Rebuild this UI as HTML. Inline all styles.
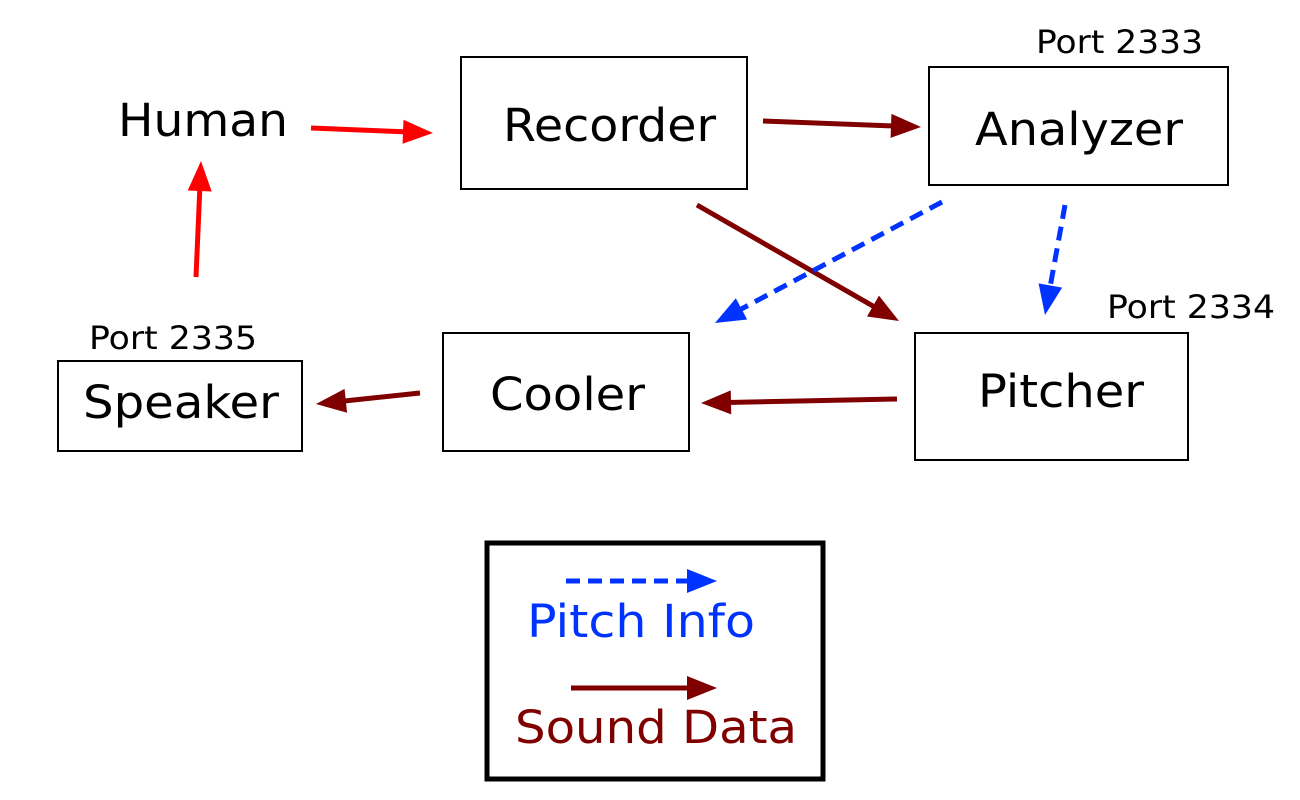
<!DOCTYPE html>
<html><head><meta charset="utf-8"><style>
html,body{margin:0;padding:0;background:#fff;}
svg{display:block;}
text{font-family:"DejaVu Sans","Liberation Sans",sans-serif;}
</style></head><body>
<svg id="s" width="1300" height="800" viewBox="0 0 1300 800" xmlns="http://www.w3.org/2000/svg">
<g fill="none" stroke="#000" stroke-width="2">
<rect x="461" y="57" width="286" height="132"/>
<rect x="929" y="67" width="299" height="118"/>
<rect x="443" y="333" width="246" height="118"/>
<rect x="915" y="333" width="273" height="127"/>
<rect x="58" y="361" width="244" height="90"/>
<rect x="487" y="543" width="336" height="236" stroke-width="5"/>
</g>
<g font-size="45" fill="#000" lengthAdjust="spacingAndGlyphs">
<text x="118" y="136" textLength="170" lengthAdjust="spacingAndGlyphs">Human</text>
<text x="503" y="141" textLength="213" lengthAdjust="spacingAndGlyphs">Recorder</text>
<text x="975" y="145" textLength="208" lengthAdjust="spacingAndGlyphs">Analyzer</text>
<text x="490" y="410" textLength="155" lengthAdjust="spacingAndGlyphs">Cooler</text>
<text x="978" y="407" textLength="166" lengthAdjust="spacingAndGlyphs">Pitcher</text>
<text x="83" y="418" textLength="196" lengthAdjust="spacingAndGlyphs">Speaker</text>
</g>
<g font-size="32" fill="#000">
<text x="1036" y="53" textLength="167" lengthAdjust="spacingAndGlyphs">Port 2333</text>
<text x="1107" y="318" textLength="168" lengthAdjust="spacingAndGlyphs">Port 2334</text>
<text x="89" y="349" textLength="168" lengthAdjust="spacingAndGlyphs">Port 2335</text>
</g>
<g id="arrows"></g>
<text x="527" y="637" font-size="45" fill="#0033ff" textLength="228" lengthAdjust="spacingAndGlyphs">Pitch Info</text>
<text x="515" y="743" font-size="45" fill="#800000" textLength="282" lengthAdjust="spacingAndGlyphs">Sound Data</text>
</svg>
<script>
var g=document.getElementById('arrows'),NS='http://www.w3.org/2000/svg';
function A(x1,y1,x2,y2,c,dash){
 var dx=x2-x1,dy=y2-y1,L=Math.hypot(dx,dy),ux=dx/L,uy=dy/L,px=-uy,py=ux,h=30,w=12;
 var l=document.createElementNS(NS,'line');
 l.setAttribute('x1',x1);l.setAttribute('y1',y1);
 l.setAttribute('x2',x2-ux*(h-4));l.setAttribute('y2',y2-uy*(h-4));
 l.setAttribute('stroke',c);l.setAttribute('stroke-width',5);
 if(dash)l.setAttribute('stroke-dasharray','14,8');
 g.appendChild(l);
 var p=document.createElementNS(NS,'polygon'),bx=x2-ux*h,by=y2-uy*h;
 p.setAttribute('points',x2+','+y2+' '+(bx+px*w)+','+(by+py*w)+' '+(bx-px*w)+','+(by-py*w));
 p.setAttribute('fill',c);g.appendChild(p);
}
var R='#ff0000',D='#800000',B='#0033ff';
A(311,128,433,133,R);
A(196,277,201,161,R);
A(763,121,921,127,D);
A(697,205,899,321,D);
A(897,399,701,403,D);
A(420,393,316,404,D);
A(942,202,715,323,B,1);
A(1065,205,1045,315,B,1);
A(566,581,717,581,B,1);
A(571,688,717,688,D);
</script>
</body></html>
